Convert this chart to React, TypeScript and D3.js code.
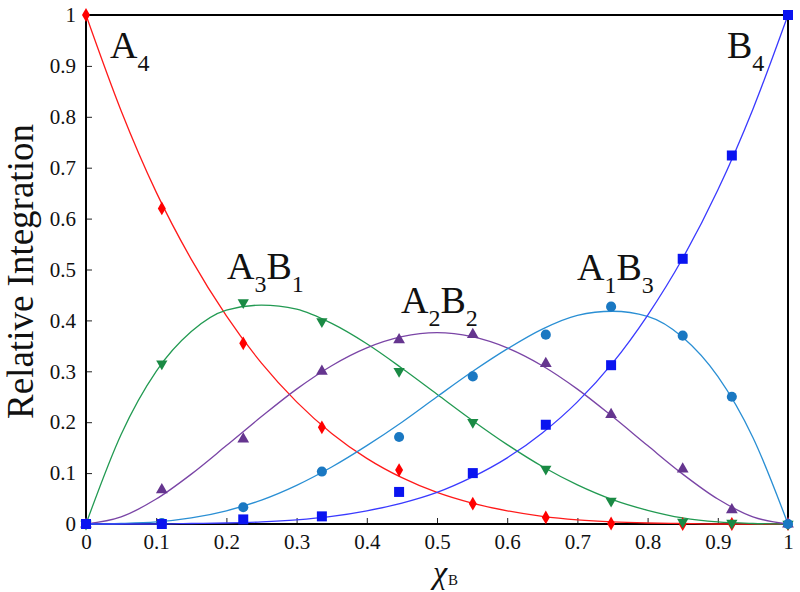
import { useEffect, useRef } from 'react';
import * as d3 from 'd3';

// marker positions (mole fraction of B)
const xMarks = [0, 0.108, 0.224, 0.336, 0.446, 0.551, 0.655, 0.748, 0.85, 0.92, 1];
const a4Marks = [1, 0.62, 0.355, 0.19, 0.106, 0.04, 0.013, 0.001, 0, 0, 0];
const a3b1Marks = [0, 0.315, 0.435, 0.398, 0.3, 0.2, 0.108, 0.045, 0.004, 0.002, 0];
const a2b2Marks = [0, 0.067, 0.167, 0.3, 0.362, 0.372, 0.315, 0.215, 0.108, 0.028, 0];
const a1b3Marks = [0, 0.002, 0.033, 0.103, 0.171, 0.29, 0.372, 0.427, 0.37, 0.25, 0];
const b4Marks = [0, 0, 0.009, 0.015, 0.063, 0.1, 0.195, 0.312, 0.521, 0.724, 1];

const curveX = [0, 0.05, 0.1, 0.15, 0.2, 0.25, 0.3, 0.35, 0.4, 0.45, 0.5, 0.55, 0.6, 0.65, 0.7, 0.75, 0.8, 0.85, 0.9, 0.95, 1];
const a4Line = [1, 0.812, 0.652, 0.52, 0.409, 0.316, 0.24, 0.178, 0.129, 0.091, 0.062, 0.041, 0.026, 0.015, 0.008, 0.004, 0.002, 0.001, 0, 0, 0];
const a3b1Line = [0, 0.176, 0.3, 0.378, 0.42, 0.43, 0.422, 0.394, 0.354, 0.306, 0.255, 0.204, 0.156, 0.113, 0.077, 0.048, 0.027, 0.012, 0.004, 0.001, 0];
const a2b2Line = [0, 0.014, 0.049, 0.098, 0.154, 0.211, 0.265, 0.311, 0.346, 0.368, 0.376, 0.368, 0.346, 0.311, 0.265, 0.211, 0.154, 0.098, 0.049, 0.014, 0];
const a1b3Line = [0, 0.001, 0.004, 0.012, 0.026, 0.047, 0.076, 0.112, 0.154, 0.2, 0.25, 0.299, 0.344, 0.383, 0.41, 0.418, 0.408, 0.367, 0.29, 0.17, 0];
const b4Line = [0, 0, 0, 0.001, 0.002, 0.004, 0.008, 0.015, 0.026, 0.041, 0.062, 0.092, 0.13, 0.179, 0.24, 0.316, 0.41, 0.522, 0.656, 0.815, 1];

const tickValues = [0, 0.1, 0.2, 0.3, 0.4, 0.5, 0.6, 0.7, 0.8, 0.9, 1];

const series = [
  { marks: a4Marks, line: a4Line, lineColor: '#ff1a1a', markColor: '#ff0000', symbol: d3.symbolDiamond, size: 55, rot: 0 },
  { marks: a3b1Marks, line: a3b1Line, lineColor: '#229a52', markColor: '#1a8a44', symbol: d3.symbolTriangle, size: 55, rot: 180 },
  { marks: a2b2Marks, line: a2b2Line, lineColor: '#7a45a6', markColor: '#65358f', symbol: d3.symbolTriangle, size: 60, rot: 0 },
  { marks: a1b3Marks, line: a1b3Line, lineColor: '#2a8fd4', markColor: '#1a78c2', symbol: d3.symbolCircle, size: 80, rot: 0 },
  { marks: b4Marks, line: b4Line, lineColor: '#3a3aff', markColor: '#0a14f0', symbol: d3.symbolSquare, size: 100, rot: 0 },
];

const labels = [
  { parts: [['A', '4']], x: 110, y: 58 },
  { parts: [['B', '4']], x: 727, y: 58 },
  { parts: [['A', '3'], ['B', '1']], x: 227, y: 279 },
  { parts: [['A', '2'], ['B', '2']], x: 401, y: 313 },
  { parts: [['A', '1'], ['B', '3']], x: 577, y: 280 },
];

const margin = { top: 15, right: 12, bottom: 68, left: 86 };
const W = 800;
const H = 592;
const font = '"Liberation Serif", "DejaVu Serif", serif';

const App = () => {
  const ref = useRef<SVGSVGElement>(null);

  useEffect(() => {
    const svg = d3.select(ref.current);
    svg.selectAll('*').remove();
    const width = W - margin.left - margin.right;
    const height = H - margin.top - margin.bottom;

    const x = d3.scaleLinear().domain([0, 1]).range([margin.left, margin.left + width]);
    const y = d3.scaleLinear().domain([0, 1]).range([margin.top + height, margin.top]);
    const fmt = (d: any) => (d === 0 ? '0' : d === 1 ? '1' : d3.format('.1f')(d));

    // x axis, ticks pointing inward
    const xAxis = svg
      .append('g')
      .attr('transform', 'translate(0,' + (margin.top + height) + ')')
      .call(d3.axisBottom(x).tickValues(tickValues).tickSizeInner(-6).tickSizeOuter(0).tickPadding(10).tickFormat(fmt));
    xAxis.attr('font-family', font).attr('font-size', 21);
    xAxis.select('.domain').remove();
    xAxis.selectAll('text').attr('fill', '#111');
    xAxis.selectAll('line').attr('stroke', '#222');

    const yAxis = svg
      .append('g')
      .attr('transform', 'translate(' + margin.left + ',0)')
      .call(d3.axisLeft(y).tickValues(tickValues).tickSizeInner(-6).tickSizeOuter(0).tickPadding(10).tickFormat(fmt));
    yAxis.attr('font-family', font).attr('font-size', 21);
    yAxis.select('.domain').remove();
    yAxis.selectAll('text').attr('fill', '#111');
    yAxis.selectAll('line').attr('stroke', '#222');

    // frame
    svg
      .append('rect')
      .attr('x', margin.left)
      .attr('y', margin.top)
      .attr('width', width)
      .attr('height', height)
      .attr('fill', 'none')
      .attr('stroke', '#000')
      .attr('stroke-width', 2);

    const line = d3
      .line<number>()
      .x((_d, i) => x(curveX[i]))
      .y((d) => y(d))
      .curve(d3.curveMonotoneX);

    series.forEach((s) => {
      svg
        .append('path')
        .datum(s.line)
        .attr('d', line)
        .attr('fill', 'none')
        .attr('stroke', s.lineColor)
        .attr('stroke-width', 1.3);
    });

    series.forEach((s) => {
      svg
        .append('g')
        .selectAll('path')
        .data(s.marks)
        .enter()
        .append('path')
        .attr('d', d3.symbol().type(s.symbol).size(s.size)() as string)
        .attr('transform', (d, i) => 'translate(' + x(xMarks[i]) + ',' + y(d) + ') rotate(' + s.rot + ')')
        .attr('fill', s.markColor);
    });

    // curve labels with subscripts
    labels.forEach((l) => {
      const t = svg
        .append('text')
        .attr('x', l.x)
        .attr('y', l.y)
        .attr('font-family', font)
        .attr('font-size', 38)
        .attr('fill', '#111');
      l.parts.forEach(([base, sub], i) => {
        t.append('tspan').text(base).attr('dy', i === 0 ? 0 : -13);
        t.append('tspan').text(sub).attr('font-size', 24).attr('dy', 13);
      });
    });

    // axis titles
    svg
      .append('text')
      .attr('transform', 'translate(33,' + (margin.top + height / 2 + 2) + ') rotate(-90)')
      .attr('text-anchor', 'middle')
      .attr('font-family', font)
      .attr('font-size', 37)
      .attr('fill', '#111')
      .text('Relative Integration');

    const xt = svg
      .append('text')
      .attr('x', 433)
      .attr('y', 583)
      .attr('font-family', font)
      .attr('font-size', 32)
      .attr('fill', '#111');
    xt.append('tspan').text('χ').attr('font-style', 'italic');
    xt.append('tspan').text('B').attr('font-size', 15).attr('dx', 1).attr('dy', 2);
  }, []);

  return (
    <svg
      ref={ref}
      width={W}
      height={H}
      style={{ position: 'absolute', left: 0, top: 0, background: '#fff' }}
    />
  );
};

export default App;
